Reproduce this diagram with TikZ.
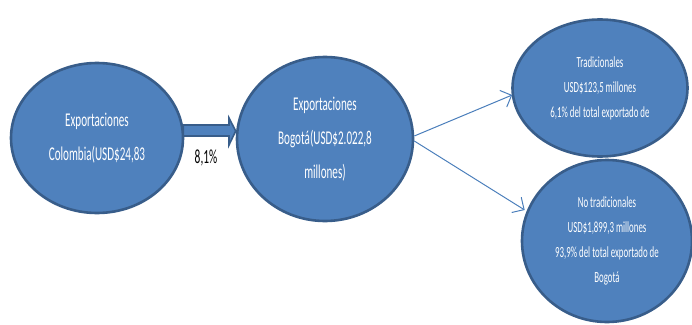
\documentclass[tikz,border=0pt]{standalone}
\usepackage{fontspec}
\setmainfont{Carlito}[FakeStretch=0.57]
\usetikzlibrary{shapes.geometric,arrows.meta,calc}
\definecolor{fillblue}{HTML}{4F81BD}
\definecolor{edgeblue}{HTML}{385D8A}
\definecolor{linkblue}{HTML}{4A7EBB}
\begin{document}
\begin{tikzpicture}[x=1pt,y=-1pt,
  bubble/.style={ellipse, draw=edgeblue, line width=2.6pt, fill=fillblue, text=white, align=center, inner sep=0pt},
  bigfont/.style={font=\fontsize{19.5}{34}\selectfont},
  smallfont/.style={font=\fontsize{15.5}{25}\selectfont},
  link/.style={draw=linkblue, line width=1pt, -{Straight Barb[length=9pt,width=18pt,line width=1pt]}},
  fatarrow/.style={draw=edgeblue, line width=1.6pt, fill=fillblue, line join=miter}
]
\useasboundingbox (0,0) rectangle (692,324);
\node[bubble, bigfont, minimum width=172pt, minimum height=150pt] (col) at (97,138) {Exportaciones\\Colombia(USD\$24,83};
\node[bubble, bigfont, minimum width=176pt, minimum height=164pt] (bog) at (325,139) {Exportaciones\\Bogotá(USD\$2.022,8\\millones)};
\node[bubble, smallfont, minimum width=175pt, minimum height=137pt] (tra) at (600,88) {Tradicionales\\USD\$123,5 millones\\6,1\% del total exportado de};
\node[bubble, smallfont, minimum width=170pt, minimum height=162pt] (ntr) at (607,241) {No tradicionales\\USD\$1,899,3 millones\\93,9\% del total exportado de\\Bogotá};
% thick arrow from col to bog
\draw[fatarrow] ($(col.east)+(-1,-13)$) -- (229,125) -- (229,118) -- ($(bog.west)+(0,-8)$) -- (229,145) -- (229,136) -- ($(col.east)+(-1,-2)$) -- cycle;
\node[font=\fontsize{20}{22}\selectfont] (pct) at (206,158) {8,1\%};
\draw[link] (bog.east) ++(0,-3) coordinate (s1) -- ($(tra.west)+(1,7)$);
\draw[link] (bog.east) ++(0,2) coordinate (s2) -- ($(ntr.west)+(4,-31)$);
\end{tikzpicture}
\end{document}
